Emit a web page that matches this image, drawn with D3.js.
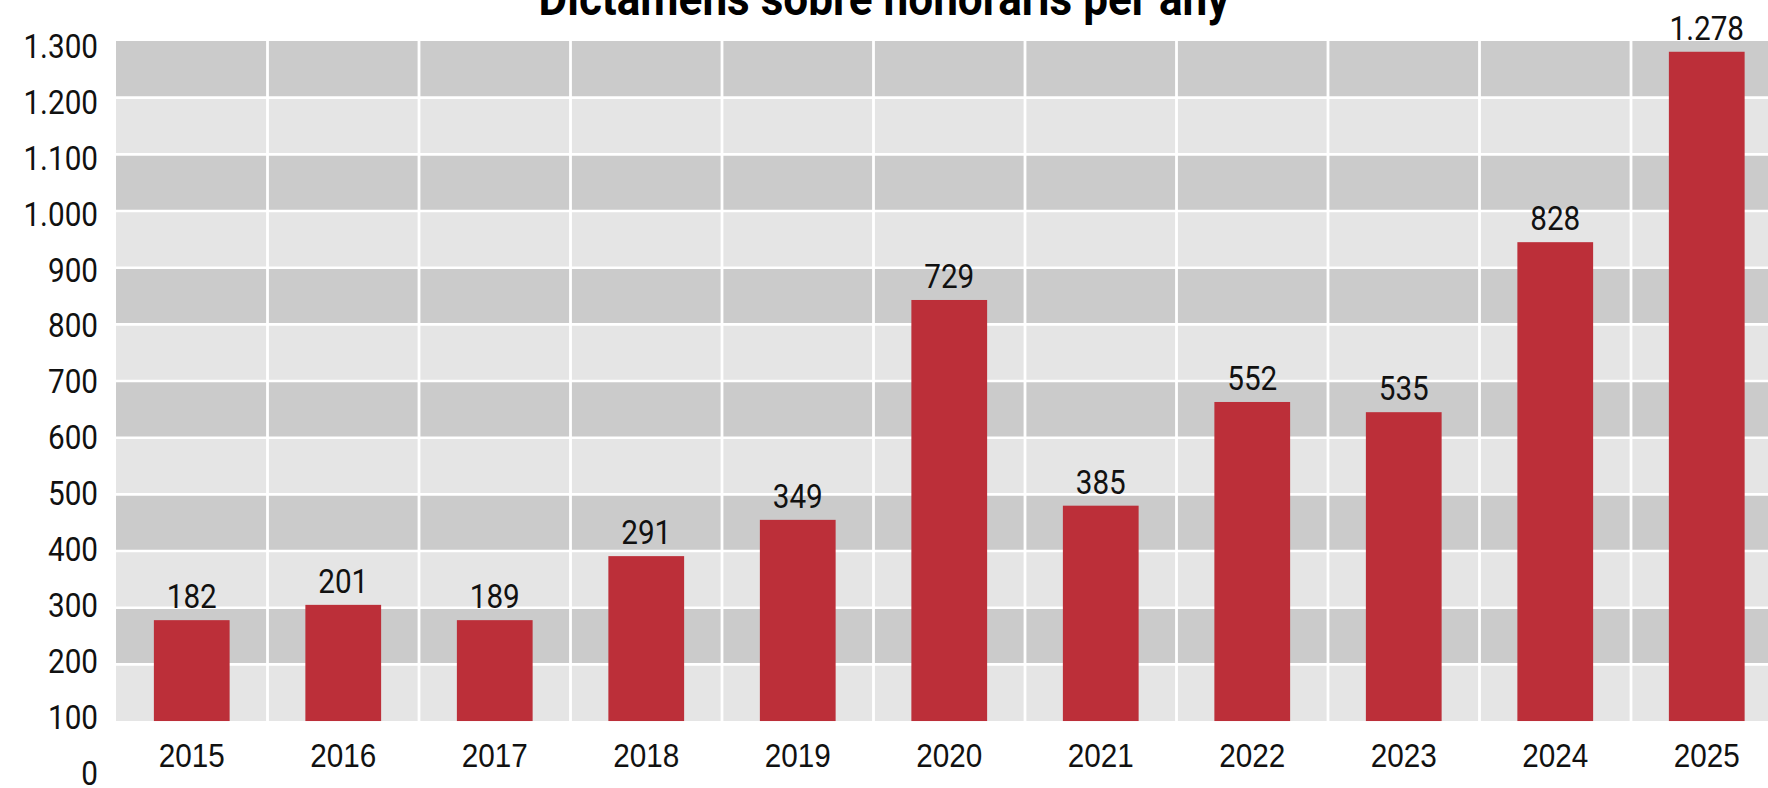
<!DOCTYPE html>
<html>
<head>
<meta charset="utf-8">
<script src="https://cdn.jsdelivr.net/npm/d3@7"></script>
<style>
  html, body { margin: 0; padding: 0; background: #fff; overflow: hidden; }
  svg { display: block; font-family: Roboto, "Noto Sans", sans-serif; }
  .domain { display: none; }
</style>
</head>
<body>
<div id="chart"></div>
<script>
const title = 'Dictàmens sobre honoraris per any';
const years = ['2015', '2016', '2017', '2018', '2019', '2020', '2021', '2022', '2023', '2024', '2025'];
// bar heights as drawn against the axis (they do not follow the printed labels)
const barValues = [278, 305, 278, 391, 455, 843, 480, 663, 645, 945, 1281];
const valueLabels = [182, 201, 189, 291, 349, 729, 385, 552, 535, 828, 1278];
const yTicks = [0, 100, 200, 300, 400, 500, 600, 700, 800, 900, 1000, 1100, 1200, 1300];

const ca = d3.formatLocale({ decimal: ',', thousands: '.', grouping: [3], currency: ['', ' €'] });
const fmt = ca.format(',d');

const chart = {
    init(elementId, width, height) {
        this.width = width;
        this.height = height;
        this.plot = { left: 116, top: 41, bottom: 721, step: 151.5 };
        this.squeeze = 0.9; // fake a condensed face
        this.svg = d3.select(`#${elementId}`)
            .append('svg')
            .attr('width', width)
            .attr('height', height);
    },

    render() {
        this.data = years.map((y, i) => ({ year: y, value: barValues[i], label: valueLabels[i] }));
        this.adjustScales();
        this.renderBackground();
        this.renderBars();
        this.renderLabels();
        this.renderXAxis();
        this.renderYAxis();
        this.renderTitle();
    },

    adjustScales() {
        const p = this.plot;
        const right = p.left + years.length * p.step;
        this.xCols = d3.scaleBand().domain(years).range([p.left, right]);
        this.x = d3.scaleBand().domain(years).range([p.left, right])
            .paddingInner(0.5).paddingOuter(0.25);
        this.y = d3.scaleLinear().domain([0, 1300]).range([777.7, p.top]);
        // tick labels sit on a slightly tighter spacing than the grid
        this.yLab = d3.scaleLinear().domain([0, 1300]).range([774, 46.7]);
    },

    renderBackground() {
        const g = this.svg.append('g').attr('class', 'background');
        const x0 = this.plot.left;
        const x1 = this.xCols.range()[1];
        const stripes = yTicks.filter(t => t >= 100 && t < 1300);

        g.selectAll('.stripe')
            .data(stripes)
            .join('rect')
            .attr('class', 'stripe')
            .attr('x', x0)
            .attr('width', x1 - x0)
            .attr('y', d => this.y(d + 100))
            .attr('height', d => this.y(d) - this.y(d + 100))
            .attr('fill', d => ((d - 100) / 100) % 2 === 0 ? '#e5e5e5' : '#cbcbcb');

        g.selectAll('.hgrid')
            .data(yTicks.filter(t => t > 100 && t < 1300))
            .join('line')
            .attr('class', 'hgrid')
            .attr('x1', x0).attr('x2', x1)
            .attr('y1', d => this.y(d)).attr('y2', d => this.y(d))
            .attr('stroke', '#fff')
            .attr('stroke-width', 2.6);

        g.selectAll('.vgrid')
            .data(years.slice(1))
            .join('line')
            .attr('class', 'vgrid')
            .attr('x1', d => this.xCols(d)).attr('x2', d => this.xCols(d))
            .attr('y1', this.y(1300)).attr('y2', this.y(100))
            .attr('stroke', '#fff')
            .attr('stroke-width', 2.8);
    },

    renderBars() {
        this.svg.append('g')
            .attr('class', 'bars')
            .selectAll('rect')
            .data(this.data)
            .join('rect')
            .attr('x', d => this.x(d.year))
            .attr('width', this.x.bandwidth())
            .attr('y', d => this.y(d.value))
            .attr('height', d => this.y(100) - this.y(d.value))
            .attr('fill', '#bc2f39');
    },

    renderLabels() {
        this.svg.append('g')
            .attr('class', 'value-labels')
            .selectAll('text')
            .data(this.data)
            .join('text')
            .attr('transform', d => `translate(${this.x(d.year) + this.x.bandwidth() / 2} ${this.y(d.value) - 12}) scale(${this.squeeze} 1)`)
            .attr('text-anchor', 'middle')
            .attr('font-size', 33)
            .attr('fill', '#111')
            .text(d => fmt(d.label));
    },

    renderXAxis() {
        const xAxis = d3.axisBottom(this.xCols).tickSize(0).tickPadding(0);
        const g = this.svg.append('g')
            .attr('class', 'x-axis')
            .attr('transform', 'translate(0 767)')
            .call(xAxis);
        g.selectAll('text')
            .attr('y', 0).attr('dy', null)
            .attr('transform', `scale(${this.squeeze} 1)`)
            .attr('font-size', 33)
            .attr('font-family', null)
            .attr('fill', '#111');
    },

    renderYAxis() {
        const yAxis = d3.axisLeft(this.yLab)
            .tickValues(yTicks)
            .tickFormat(fmt)
            .tickSize(0)
            .tickPadding(0);
        const g = this.svg.append('g')
            .attr('class', 'y-axis')
            .attr('transform', 'translate(98 0)')
            .call(yAxis);
        g.attr('font-family', null);
        g.selectAll('text')
            .attr('transform', `scale(${this.squeeze} 1)`)
            .attr('font-size', 33)
            .attr('fill', '#111');
    },

    renderTitle() {
        this.svg.append('text')
            .attr('class', 'title')
            .attr('transform', `translate(${this.width / 2} 15) scale(0.9 1)`)
            .attr('text-anchor', 'middle')
            .attr('font-size', 49)
            .attr('font-weight', 'bold')
            .attr('fill', '#000')
            .text(title);
    }
};

chart.init('chart', 1768, 788);
chart.render();
</script>
</body>
</html>
